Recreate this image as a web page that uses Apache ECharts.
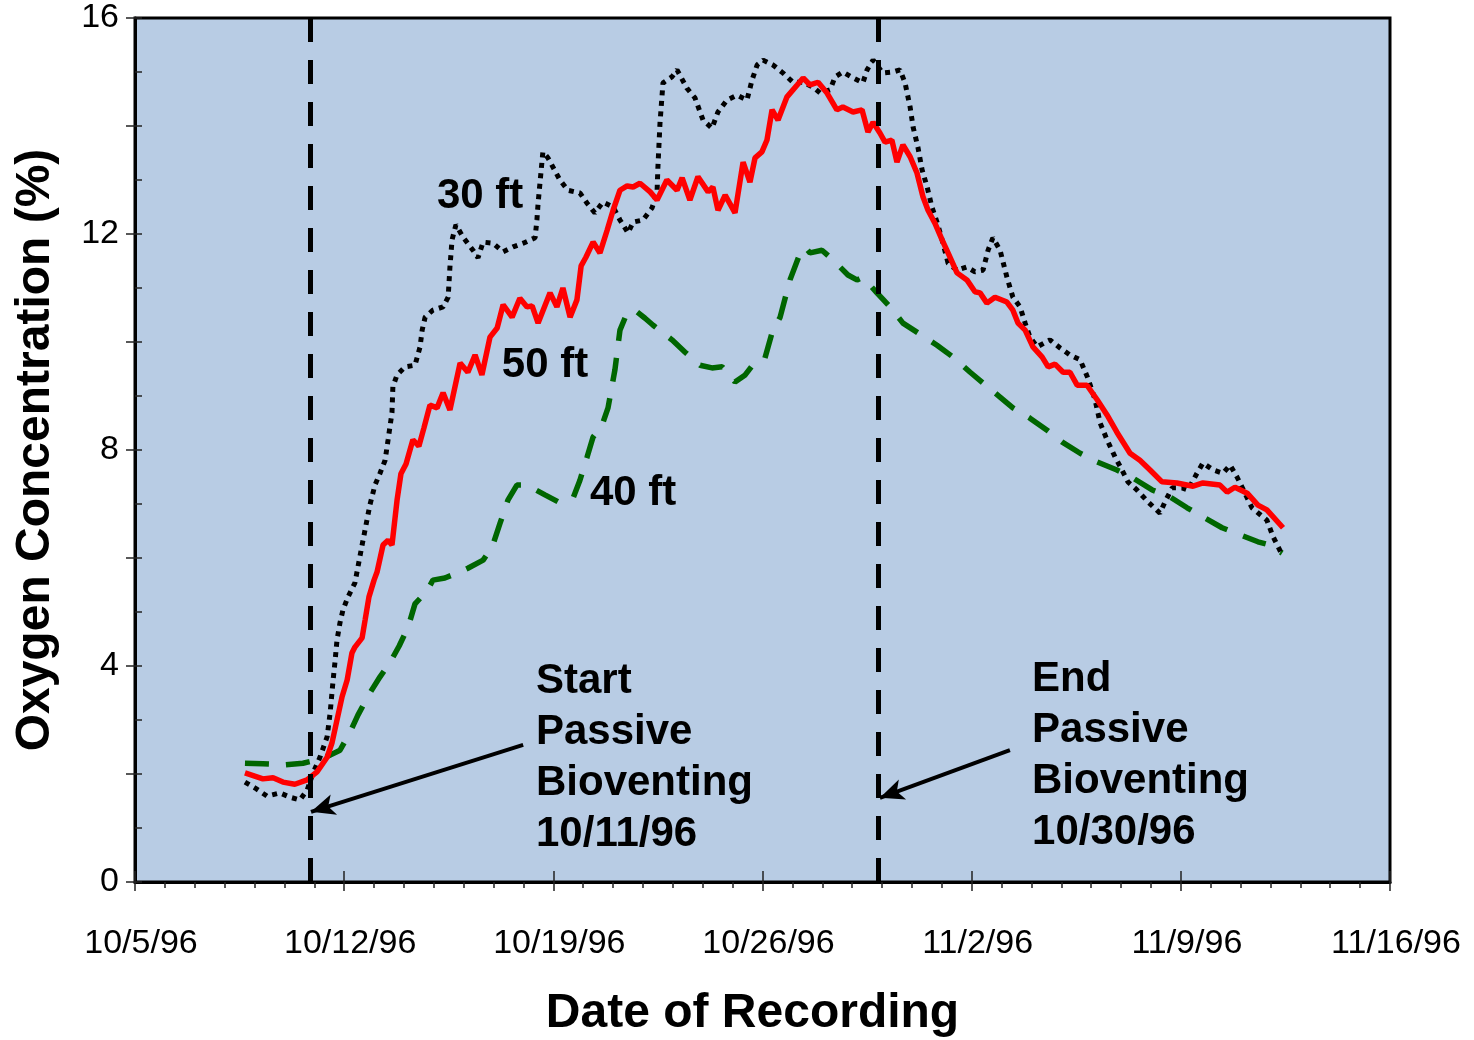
<!DOCTYPE html>
<html>
<head>
<meta charset="utf-8">
<title>Oxygen Concentration</title>
<script src="https://cdn.jsdelivr.net/npm/echarts@6/dist/echarts.min.js"></script>
<style>
html, body { margin:0; padding:0; background:#fff; }
#chart { width:1474px; height:1040px; }
</style>
</head>
<body>
<div id="chart"></div>
<script>
// x values are days since 10/5/96
const xTickLabels = ['10/5/96', '10/12/96', '10/19/96', '10/26/96', '11/2/96', '11/9/96', '11/16/96']
const startDay = 5.86   // 10/11/96 marker
const endDay = 24.87    // 10/30/96 marker

const days50 = [3.68,4.28,4.62,4.95,5.35,5.76,6.09,6.43,6.59,6.76,
  6.93,7.10,7.26,7.36,7.60,7.70,7.83,8.00,8.10,8.30,
  8.47,8.60,8.77,8.90,9.07,9.30,9.50,9.67,9.87,10.11,
  10.31,10.54,10.88,11.14,11.38,11.61,11.88,12.12,12.32,12.62,
  12.88,13.12,13.29,13.49,13.89,14.12,14.32,14.56,14.79,14.93,
  15.09,15.33,15.56,15.80,16.00,16.23,16.47,16.67,16.90,17.24,
  17.47,17.80,18.14,18.31,18.57,18.84,19.18,19.34,19.51,19.75,
  20.08,20.35,20.58,20.75,20.98,21.15,21.32,21.52,21.82,22.16,
  22.36,22.59,22.86,23.16,23.49,23.69,24.03,24.33,24.53,24.70,
  24.93,25.10,25.33,25.50,25.70,25.94,26.17,26.37,26.54,26.77,
  27.01,27.21,27.51,27.84,28.11,28.28,28.51,28.78,29.18,29.38,
  29.55,29.79,30.05,30.36,30.56,30.79,31.06,31.29,31.53,31.86,
  32.20,32.53,32.86,33.30,33.63,33.97,34.37,34.87,35.41,35.74,
  36.31,36.55,36.81,37.22,37.58,37.88,38.42]
const o2_50 = [2.02,1.91,1.93,1.85,1.81,1.89,2.04,2.31,2.57,3.00,
  3.43,3.74,4.24,4.35,4.52,4.85,5.28,5.59,5.74,6.24,
  6.33,6.24,7.07,7.56,7.74,8.19,8.07,8.41,8.83,8.78,
  9.06,8.74,9.61,9.44,9.76,9.39,10.09,10.26,10.69,10.46,
  10.81,10.65,10.67,10.35,10.91,10.65,11.00,10.46,10.78,11.41,
  11.57,11.85,11.65,12.07,12.44,12.81,12.89,12.87,12.94,12.78,
  12.63,13.00,12.81,13.04,12.63,13.06,12.78,12.87,12.44,12.72,
  12.39,13.33,12.96,13.41,13.52,13.74,14.30,14.11,14.54,14.76,
  14.89,14.76,14.81,14.61,14.30,14.35,14.26,14.30,13.89,14.07,
  13.87,13.70,13.74,13.33,13.65,13.43,13.13,12.69,12.44,12.20,
  11.89,11.65,11.28,11.15,10.93,10.91,10.72,10.83,10.74,10.59,
  10.35,10.22,9.91,9.72,9.54,9.59,9.44,9.44,9.20,9.20,
  8.93,8.65,8.33,7.94,7.81,7.63,7.41,7.39,7.33,7.39,
  7.35,7.22,7.31,7.20,6.98,6.89,6.56]

const days30 = [3.68,4.02,4.42,4.85,5.19,5.52,5.76,5.96,6.19,6.43,
  6.53,6.63,6.69,6.76,6.86,6.96,7.13,7.36,7.60,7.86,
  8.03,8.20,8.37,8.47,8.60,8.63,8.77,9.04,9.37,9.54,
  9.61,9.71,9.97,10.31,10.48,10.54,10.61,10.74,10.98,11.31,
  11.48,11.65,11.98,12.32,12.65,12.99,13.39,13.45,13.49,13.65,
  13.82,14.22,14.49,14.89,15.13,15.39,15.66,16.00,16.23,16.50,
  16.67,17.00,17.30,17.47,17.50,17.57,17.67,17.97,18.14,18.47,
  18.74,19.01,19.31,19.51,19.81,20.15,20.48,20.65,20.82,21.02,
  21.35,21.69,22.02,22.36,22.69,22.93,23.26,23.43,23.69,24.03,
  24.36,24.50,24.70,25.03,25.37,25.60,25.77,25.94,26.04,26.20,
  26.34,26.51,26.67,26.87,27.04,27.21,27.51,27.84,28.11,28.38,
  28.55,28.71,28.95,29.18,29.38,29.62,29.79,29.95,30.19,30.62,
  30.96,31.29,31.63,31.89,32.13,32.30,32.53,32.80,33.03,33.23,
  33.53,33.90,34.30,34.47,34.71,35.04,35.24,35.54,35.74,36.08,
  36.41,36.65,36.88,37.05,37.38,37.88,38.09,38.39]
const o2_30 = [1.85,1.74,1.59,1.65,1.57,1.52,1.70,2.02,2.31,2.69,
  3.13,3.74,4.06,4.48,4.80,5.04,5.28,5.54,6.24,6.98,
  7.35,7.57,7.81,8.19,8.69,9.17,9.39,9.54,9.57,9.91,
  10.22,10.46,10.59,10.65,10.83,11.39,11.89,12.17,11.94,11.70,
  11.56,11.85,11.83,11.67,11.76,11.83,11.93,12.26,12.57,13.52,
  13.41,13.00,12.81,12.76,12.57,12.39,12.59,12.50,12.26,12.02,
  12.22,12.26,12.48,12.76,13.24,14.06,14.80,14.91,15.04,14.70,
  14.52,14.11,13.96,14.26,14.48,14.57,14.48,14.85,15.13,15.22,
  15.13,14.98,14.81,14.81,14.72,14.61,14.67,14.91,15.00,14.89,
  14.80,15.04,15.22,14.98,15.00,15.04,14.80,14.35,13.98,13.61,
  13.19,12.87,12.50,12.17,11.83,11.46,11.33,11.39,11.30,11.33,
  11.70,11.93,11.70,11.20,10.83,10.65,10.35,10.09,9.91,10.04,
  9.89,9.76,9.67,9.33,8.93,8.50,8.19,7.87,7.63,7.41,
  7.26,7.04,6.83,7.04,7.30,7.30,7.26,7.57,7.76,7.63,
  7.57,7.72,7.50,7.31,6.93,6.70,6.39,6.06]

const days40 = [3.68,4.28,5.02,5.62,6.09,6.53,6.86,7.20,7.46,7.86,
  8.20,8.53,8.84,9.14,9.37,9.77,9.97,10.37,10.78,11.14,
  11.65,11.95,12.22,12.48,12.78,13.12,13.72,14.16,14.66,14.89,
  15.13,15.33,15.63,15.83,16.06,16.23,16.47,16.73,17.07,17.34,
  17.67,17.97,18.41,18.91,19.31,19.65,20.08,20.42,20.75,21.08,
  21.32,21.59,21.92,22.26,22.42,22.59,22.99,23.36,23.86,24.16,
  24.36,24.83,25.27,25.70,26.20,26.84,27.38,27.95,28.95,29.38,
  29.95,30.56,31.02,31.63,32.20,32.86,33.40,34.04,34.64,35.21,
  35.74,36.38,36.98,37.58,37.98,38.39]
const o2_40 = [2.20,2.19,2.17,2.20,2.26,2.35,2.44,2.78,3.09,3.50,
  3.80,4.06,4.37,4.72,5.15,5.39,5.59,5.63,5.72,5.81,
  5.96,6.20,6.65,7.07,7.35,7.35,7.17,7.04,7.11,7.44,
  7.87,8.24,8.46,8.78,9.48,10.22,10.54,10.59,10.44,10.31,
  10.17,10.04,9.81,9.57,9.52,9.54,9.26,9.39,9.63,9.70,
  10.17,10.46,11.15,11.65,11.76,11.65,11.70,11.52,11.24,11.15,
  11.20,10.91,10.65,10.35,10.17,9.94,9.72,9.44,8.98,8.78,
  8.59,8.35,8.15,7.94,7.78,7.63,7.48,7.26,7.13,6.93,
  6.76,6.56,6.43,6.30,6.24,6.09]

const zip = (xs, ys) => xs.map((x, i) => [x, ys[i]])
const font = 'Liberation Sans, Arial, Helvetica, sans-serif'

const textMark = (coord, text, align) => ({
  coord,
  symbol: 'rect',
  symbolSize: 1,
  itemStyle: { color: 'transparent' },
  label: {
    show: true, position: 'inside', formatter: text, align: align || 'center', verticalAlign: 'middle',
    color: '#000', fontFamily: font, fontWeight: 'bold', fontSize: 42, lineHeight: 51
  }
})

const arrow = (from, to) => [
  { coord: from, symbol: 'none' },
  { coord: to, symbol: 'arrow', symbolSize: [16, 24] }
]

const chart = echarts.init(document.getElementById('chart'))

chart.setOption({
  animation: false,
  backgroundColor: '#fff',
  grid: {
    left: 135, right: 84, top: 18, bottom: 158, outerBoundsMode: 'none',
    show: true, backgroundColor: '#b8cce4', borderColor: '#000', borderWidth: 3
  },
  xAxis: [
    {
      // daily minor ticks (outside)
      type: 'value', position: 'bottom', min: 0, max: 42, interval: 1,
      axisLine: { show: true, onZero: false, lineStyle: { color: '#000', width: 3 } },
      axisTick: { show: true, length: 6, lineStyle: { color: '#222', width: 1.5 } },
      axisLabel: { show: false },
      splitLine: { show: false }
    },
    {
      // weekly ticks + labels
      type: 'value', position: 'bottom', min: 0, max: 42, interval: 7,
      axisLine: { show: false, onZero: false },
      axisTick: { show: true, length: 9, lineStyle: { color: '#222', width: 1.5 } },
      axisLabel: {
        show: true, margin: 45, fontSize: 34, lineHeight: 34, color: '#000', fontFamily: font,
        padding: [0, 0, 0, 12],
        formatter: v => xTickLabels[Math.round(v / 7)]
      },
      splitLine: { show: false },
      name: 'Date of Recording', nameLocation: 'middle', nameGap: 108,
      nameTextStyle: { fontSize: 48, fontWeight: 'bold', color: '#000', fontFamily: font, padding: [0, 20, 0, 0] }
    },
    {
      // weekly ticks inside
      type: 'value', position: 'bottom', min: 0, max: 42, interval: 7,
      axisLine: { show: false, onZero: false },
      axisTick: { show: true, inside: true, length: 11, lineStyle: { color: '#222', width: 1.5 } },
      axisLabel: { show: false },
      splitLine: { show: false }
    }
  ],
  yAxis: [
    {
      type: 'value', position: 'left', min: 0, max: 16, interval: 2,
      axisLine: { show: true, onZero: false, lineStyle: { color: '#000', width: 3 } },
      axisTick: { show: true, length: 9, lineStyle: { color: '#222', width: 1.5 } },
      axisLabel: {
        show: true, margin: 16, fontSize: 34, color: '#000', fontFamily: font,
        formatter: v => (v % 4 === 0 ? String(v) : '')
      },
      splitLine: { show: false },
      name: 'Oxygen Concentration (%)', nameLocation: 'middle', nameGap: 75,
      nameTextStyle: { fontSize: 48, fontWeight: 'bold', color: '#000', fontFamily: font }
    },
    {
      type: 'value', position: 'left', min: 0, max: 16, interval: 1,
      axisLine: { show: false, onZero: false },
      axisTick: { show: true, inside: true, length: 7, lineStyle: { color: '#222', width: 1.5 } },
      axisLabel: { show: false },
      splitLine: { show: false }
    }
  ],
  series: [
    {
      name: '40 ft', type: 'line', symbol: 'none', data: zip(days40, o2_40),
      lineStyle: { color: '#006600', width: 5.5, type: [24, 17], cap: 'butt' },
      markPoint: { silent: true, data: [textMark([16.67, 7.20], '40 ft')] }
    },
    {
      name: '30 ft', type: 'line', symbol: 'none', data: zip(days30, o2_30),
      lineStyle: { color: '#000', width: 5, type: [5, 5.5], cap: 'butt' },
      markPoint: { silent: true, data: [textMark([11.55, 12.69], '30 ft')] },
      markLine: {
        silent: true, symbol: ['none', 'none'], label: { show: false },
        lineStyle: { color: '#000', width: 5, type: [24, 18] },
        data: [{ xAxis: startDay }, { xAxis: endDay }]
      }
    },
    {
      name: '50 ft', type: 'line', symbol: 'none', data: zip(days50, o2_50),
      lineStyle: { color: '#ff0000', width: 5.5 },
      markPoint: {
        silent: true,
        data: [
          textMark([13.72, 9.56], '50 ft'),
          textMark([13.42, 2.30], 'Start\nPassive\nBioventing\n10/11/96', 'left'),
          textMark([30.02, 2.34], 'End\nPassive\nBioventing\n10/30/96', 'left')
        ]
      },
      markLine: {
        silent: true, symbol: ['none', 'none'], label: { show: false },
        lineStyle: { color: '#000', width: 4, type: 'solid' },
        data: [
          arrow([12.99, 2.54], [5.89, 1.30]),
          arrow([29.28, 2.44], [24.93, 1.56])
        ]
      }
    }
  ]
})
</script>
</body>
</html>
